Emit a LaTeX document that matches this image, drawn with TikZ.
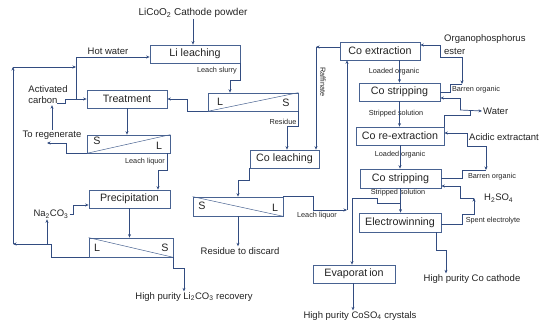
\documentclass[tikz,border=0pt]{standalone}
\usepackage{fontspec}
\setmainfont{Liberation Sans}
\usetikzlibrary{arrows.meta}
\definecolor{linec}{RGB}{50,76,128}
\definecolor{boxc}{RGB}{72,98,145}
\definecolor{txtc}{RGB}{35,35,35}
\newcommand{\fbig}{\fontsize{10.7}{12}\selectfont}
\newcommand{\fmid}{\fontsize{9.5}{11}\selectfont}
\newcommand{\fsml}{\fontsize{7.3}{8.5}\selectfont}
\tikzset{
 proc/.style={draw=boxc, line width=0.7pt, inner sep=0pt, font=\fbig, text=txtc},
 sepbox/.style={draw=boxc, line width=0.7pt, inner sep=0pt},
 lbl/.style={font=\fmid, text=txtc, inner sep=1pt},
 slbl/.style={font=\fsml, text=txtc, inner sep=1pt},
 conn/.style={draw=linec, line width=0.7pt},
 arr/.style={conn, -{Stealth[length=3.5pt,width=3pt]}},
 lett/.style={font=\fbig, text=txtc, inner sep=0pt},
 diag/.style={draw=boxc, line width=0.5pt},
}
\begin{document}
\begin{tikzpicture}[x=1pt,y=-1pt]
\useasboundingbox (0,0) rectangle (549,323);
% ---------- process boxes ----------
\node[proc, minimum width=90pt, minimum height=18pt] (lileach) at (195,54) {Li leaching};
\node[proc, minimum width=80pt, minimum height=18pt] (treat) at (127,99) {Treatment};
\node[proc, minimum width=81pt, minimum height=18pt] (precip) at (129.5,199) {Precipitation};
\node[proc, minimum width=69pt, minimum height=18pt] (coleach) at (284.5,159) {Co leaching};
\node[proc, minimum width=80pt, minimum height=18pt] (coext) at (380,51) {Co extraction};
\node[proc, minimum width=81pt, minimum height=18pt] (costrip1) at (399.5,92) {Co stripping};
\node[proc, minimum width=88pt, minimum height=18pt] (coreext) at (400,136) {Co re-extraction};
\node[proc, minimum width=81pt, minimum height=19pt] (costrip2) at (400.5,178.5) {Co stripping};
\node[proc, minimum width=82pt, minimum height=19pt] (elect) at (400,222.5) {Electrowinning};
\node[proc, minimum width=82pt, minimum height=18pt] (evap) at (354,274) {Evaporat\hspace{2pt}ion};
% ---------- separation boxes ----------
\node[sepbox, minimum width=90pt, minimum height=18pt] (ls1) at (253,102) {};
\draw[diag] (ls1.south west) -- (ls1.north east);
\node[lett] (ls1l) at (220,102) {L};
\node[lett] (ls1s) at (286,103) {S};
\node[sepbox, minimum width=83pt, minimum height=18pt] (ls3) at (128.5,144) {};
\draw[diag] (ls3.south west) -- (ls3.north east);
\node[lett] (ls3s) at (97,141) {S};
\node[lett] (ls3l) at (159,146) {L};
\node[sepbox, minimum width=84pt, minimum height=19pt] (ls4) at (131,247.5) {};
\draw[diag] (ls4.north west) -- (ls4.south east);
\node[lett] (ls4l) at (97,248) {L};
\node[lett] (ls4s) at (165,248) {S};
\node[sepbox, minimum width=90pt, minimum height=19pt] (ls2) at (238,206.5) {};
\draw[diag] (ls2.north west) -- (ls2.south east);
\node[lett] (ls2s) at (202,206) {S};
\node[lett] (ls2l) at (275,208) {L};
% ---------- text labels ----------
\node[font=\fontsize{10}{12}\selectfont, text=txtc, inner sep=1pt] (src) at (193,13) {LiCoO\textsubscript{2} Cathode powder};
\node[lbl] (hotw) at (108,51) {Hot water};
\node[lbl, align=left] (actc) at (48,95) {Activated\\carbon};
\node[lbl] (toreg) at (52,135) {To regenerate};
\node[lbl] (na2) at (51,214) {Na\textsubscript{2}CO\textsubscript{3}};
\node[lbl] (li2co3) at (194,297) {High purity Li\textsubscript{2}CO\textsubscript{3} recovery};
\node[lbl] (resdis) at (240,251) {Residue to discard};
\node[lbl] (coso4) at (360,316) {High purity CoSO\textsubscript{4} crystals};
\node[lbl] (cocath) at (472,279) {High purity Co cathode};
\node[font=\fontsize{9.5}{13}\selectfont, text=txtc, inner sep=1pt, align=left, anchor=north west] (org) at (443,33) {Organophosphorus\\ester};
\node[lbl, anchor=west] (water) at (482,111) {Water};
\node[lbl, anchor=west] (acid) at (468,137) {Acidic extractant};
\node[lbl, anchor=west] (h2so4) at (483,198) {H\textsubscript{2}SO\textsubscript{4}};
\node[slbl] (lslurry) at (217,71) {Leach slurry};
\node[slbl] (resid) at (283,122) {Residue};
\node[slbl] (lliq1) at (145,162) {Leach liquor};
\node[slbl] (lliq2) at (317,216) {Leach liquor};
\node[slbl, rotate=-90] (raff) at (323,82) {Raffinate};
\node[slbl] (lorg1) at (394,72) {Loaded organic};
\node[slbl] (ssol1) at (396,114) {Stripped solution};
\node[slbl] (lorg2) at (400,155) {Loaded organic};
\node[slbl] (ssol2) at (398,193) {Stripped solution};
\node[slbl] (borg1) at (476,90) {Barren organic};
\node[slbl] (borg2) at (492,177) {Barren organic};
\node[slbl] (spent) at (493,221) {Spent electrolyte};
% ---------- named junctions ----------
\coordinate (acout) at (57,103);
\coordinate (hw) at (76,99);
\coordinate (lp1) at (13,244);
\coordinate (lp2) at (13,67);
\coordinate (lp3) at (76,67);
\coordinate (nb) at (47,244);
\coordinate (raf) at (316,47);
\coordinate (ll) at (347,210);
\coordinate (ev1) at (400,203);
\coordinate (o1) at (462,57);
\coordinate (b1) at (462,84);
\coordinate (w1) at (460,110);
\coordinate (w2) at (470,110);
\coordinate (a1) at (467,146);
\coordinate (b2) at (486,170);
\coordinate (h1) at (474,198);
% ---------- left side connectors ----------
\draw[arr] (src.south) -- (src.south |- lileach.north);
\draw[arr] (lileach.south east) -- ++(0,17) -| ([xshift=-23pt]ls1.north);
\draw[arr] (ls1.south west) -- ++(-20,0) |- (treat.east);
\draw[arr] (ls1.south east) -- ++(0,15) -| ([xshift=2.5pt]coleach.north);
\draw[arr] (acout) -- ++(8,0) |- (treat.west);
\draw[arr] (hw) |- ([yshift=-3pt]lileach.west);
\draw[arr] (treat.south) -- (treat.south |- ls3.north);
\draw[arr] (ls3.south west) -- ++(-20,0) |- ([xshift=-5pt,yshift=-8pt]toreg.center);
\draw[arr] (toreg.north) -- (toreg.north |- actc.south);
\draw[arr] ([xshift=-3pt]ls3.south east) -- ++(0,17) -| ([xshift=28.5pt]precip.north);
\draw[arr] (na2.east) -- ++(4,0) |- ([yshift=-6pt]precip.west);
\draw[arr] (precip.south) -- (precip.south |- ls4.north);
\draw[arr] (ls4.south east) -- ++(0,11) -| ([xshift=-10pt]li2co3.north);
\draw[arr] (ls4.south west) -- ++(-37,0) |- (lp1);
\draw[arr] (lp1) -- (lp2);
\draw[arr] (lp2) -- (lp3);
\draw[arr] (nb) -- (nb |- na2.south);
% ---------- middle connectors ----------
\draw[arr] ([yshift=4pt]coext.west) -- (raf);
\draw[arr] (raf) -- (raf |- coleach.north);
\draw[arr] (coleach.south west) -- ++(0,12) -| (ls2.north);
\draw[arr] (ls2.south) -- (ls2.south |- resdis.north);
\draw[arr] (ls2.north east) -- ++(30,0) |- (ll);
\draw[arr] (ll) -- (ll |- coext.south);
% ---------- right side connectors ----------
\draw[arr] (costrip1.north |- coext.south) -- (costrip1.north);
\draw[arr] (costrip1.south) -- (costrip1.south |- coreext.north);
\draw[arr] (coreext.south) -- (coreext.south |- costrip2.north);
\draw[arr] (costrip2.south) -- (costrip2.south |- elect.north);
\draw[arr] (ev1) -- ++(-23,0) -- ++(0,-5) -| ([xshift=-2pt]evap.north);
\draw[arr] ([xshift=-1pt]evap.south) -- ([xshift=-1pt]evap.south |- coso4.north);
\draw[arr] ([xshift=-5pt]elect.south east) -- ++(0,18) -| ([xshift=-26pt]cocath.north);
\draw[arr] (o1) -- ++(-22,0) |- ([yshift=6pt]coext.east);
\draw[arr] (o1) -- (b1);
\draw[conn] (costrip1.east) -- ++(10,0) |- (b1);
\draw[arr] (w1) -- (water.west);
\draw[arr] (w1) |- ([yshift=-6pt]costrip1.east);
\draw[conn] (coreext.north east) -- ++(0,-11) -| (w2);
\draw[arr] (a1) |- ([yshift=3pt]coreext.east);
\draw[arr] (a1) -| (b2);
\draw[conn] (costrip2.east) -- ++(21,0) |- (b2);
\draw[arr] (h1) -- ++(-14,0) |- ([yshift=-7.5pt]costrip2.east);
\draw[arr] ([yshift=-1.5pt]elect.east) -- ++(21,0) -- ++(0,-10) -| (h1);
\end{tikzpicture}
\end{document}
